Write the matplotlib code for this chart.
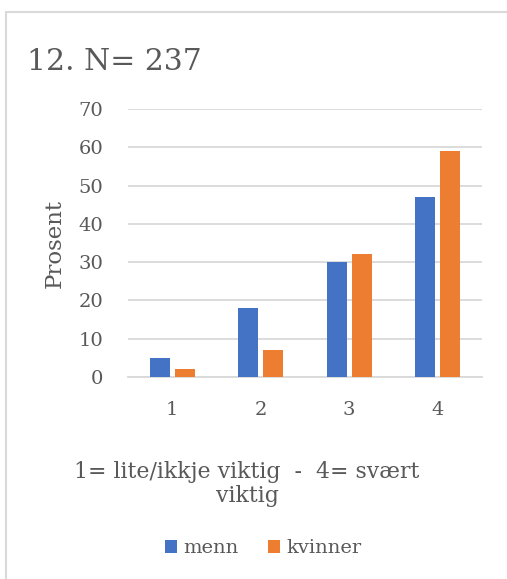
"""Grouped bar chart: importance rating by gender."""

import matplotlib
matplotlib.use("Agg")
import matplotlib.pyplot as plt
import numpy as np
from matplotlib.patches import Rectangle

categories = ["1", "2", "3", "4"]
menn = [5, 18, 30, 47]
kvinner = [2, 7, 32, 59]
yticks = [0, 10, 20, 30, 40, 50, 60, 70]

BLUE = "#4472C4"
ORANGE = "#ED7D31"
TEXT = "#595959"
GRID = "#D9D9D9"

plt.rcParams["font.family"] = ["DejaVu Serif"]

fig = plt.figure(figsize=(5.07, 5.79), dpi=100)

# chart frame (only top and left edges fall inside the image)
fig.patches.append(Rectangle((6 / 507, -0.1), 1.2, 1 - 12 / 579 + 0.1,
                             transform=fig.transFigure, fill=False,
                             edgecolor=GRID, linewidth=1.5))

ax = fig.add_axes([128 / 507, 202 / 579, 354 / 507, 268 / 579])
x = np.arange(len(categories))
w = 0.225
ax.bar(x - 0.14, menn, w, color=BLUE, label="menn", zorder=3)
ax.bar(x + 0.14, kvinner, w, color=ORANGE, label="kvinner", zorder=3)

ax.set_xlim(-0.5, len(categories) - 0.5)
ax.set_ylim(0, 70)
ax.set_yticks(yticks)
ax.set_xticks(x)
ax.set_xticklabels(categories)
ax.yaxis.grid(True, color=GRID, linewidth=1.3, zorder=0)
for side in ["top", "right", "left"]:
    ax.spines[side].set_visible(False)
ax.spines["bottom"].set_color(GRID)
ax.spines["bottom"].set_linewidth(1.3)
ax.tick_params(length=0, labelsize=14, colors=TEXT)
ax.tick_params(axis="y", pad=18)
ax.tick_params(axis="x", pad=17)
ax.set_ylabel("Prosent", fontsize=16.5, color=TEXT, labelpad=9)

fig.text(27 / 507, 1 - 62 / 579, "12. N= 237", fontsize=21.5, color=TEXT,
         ha="left", va="center")
fig.text(247 / 507, 1 - 484 / 579, "1= lite/ikkje viktig  -  4= svært\nviktig",
         fontsize=15.8, color=TEXT, ha="center", va="center",
         multialignment="center", linespacing=1.12)

fig.legend(loc="center", bbox_to_anchor=(263 / 507, 1 - 548 / 579), ncol=2,
           frameon=False, fontsize=14, labelcolor=TEXT, handlelength=0.65,
           handleheight=0.65, handletextpad=0.3, columnspacing=1.5)

fig.savefig("out.png", dpi=100)
